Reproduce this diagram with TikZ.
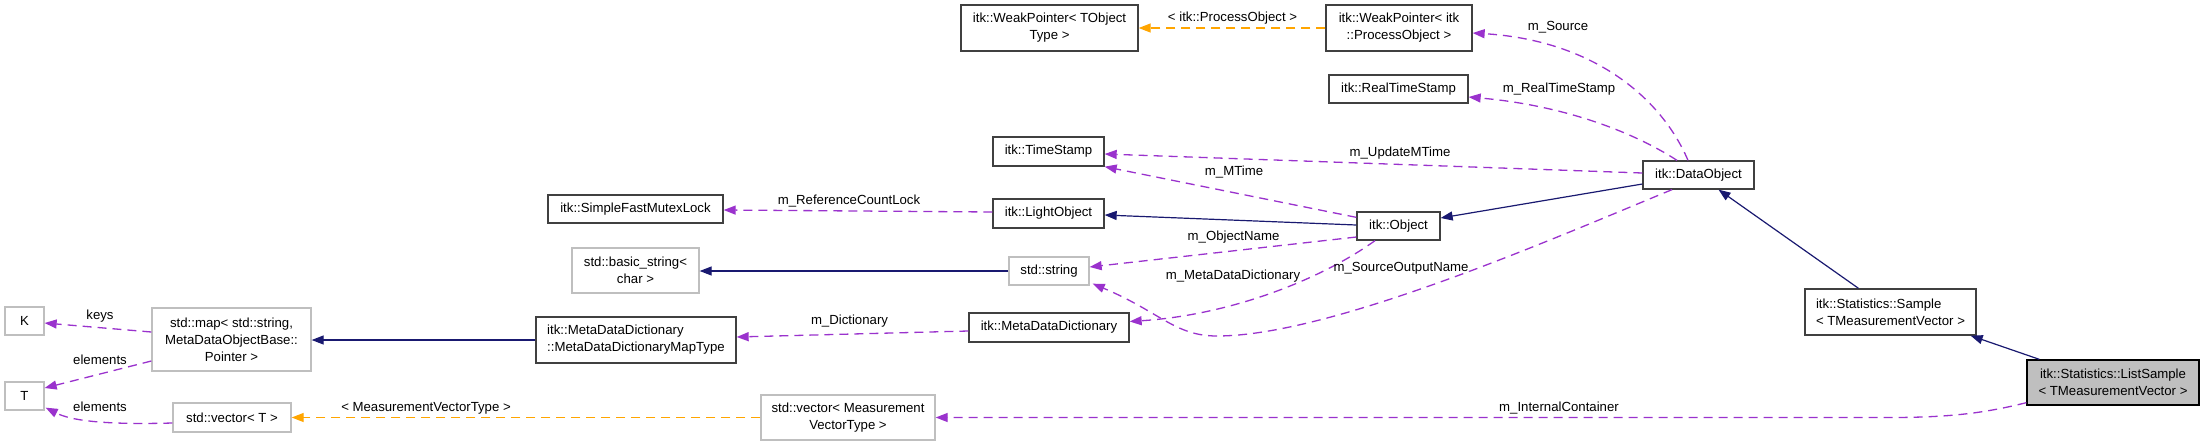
\documentclass[tikz,border=0pt]{standalone}
\usepackage{fontspec}
\setmainfont{Liberation Sans}
\usetikzlibrary{arrows.meta,calc}
\definecolor{navy}{HTML}{191970}
\definecolor{usecol}{HTML}{9A32CD}
\definecolor{tmplcol}{HTML}{FFA500}
\definecolor{boxline}{HTML}{404040}
\definecolor{grayline}{HTML}{BFBFBF}
\definecolor{lsfill}{HTML}{BFBFBF}
\tikzset{
  every node/.style={font=\fontsize{13.2}{17}\selectfont},
  cls/.style={draw=boxline, line width=1.3pt, fill=white, inner sep=0pt, align=center},
  ext/.style={draw=grayline, line width=1.3pt, fill=white, inner sep=0pt, align=center},
  inh/.style={draw=navy, line width=1.2pt, -{Triangle[length=12pt,width=9pt]}},
  usage/.style={draw=usecol, line width=1.3pt, dash pattern=on 9pt off 6pt, -{Triangle[length=12pt,width=9pt]}},
  templ/.style={draw=tmplcol, line width=1.3pt, dash pattern=on 9pt off 6pt, -{Triangle[length=12pt,width=9pt]}},
  lab/.style={inner sep=0pt}
}
\begin{document}
\begin{tikzpicture}[x=1pt,y=-1pt]
\useasboundingbox (0,0) rectangle (2205,445);
% nodes
\node[cls, minimum width=177, minimum height=46] (wpT) at (1049.5,28) {itk::WeakPointer< TObject\\Type >};
\node[cls, minimum width=146, minimum height=46] (wpP) at (1399,28) {itk::WeakPointer< itk\\::ProcessObject >};
\node[cls, minimum width=139, minimum height=28] (rts) at (1398.5,89) {itk::RealTimeStamp};
\node[cls, minimum width=111, minimum height=29] (ts) at (1048.5,151.5) {itk::TimeStamp};
\node[cls, minimum width=111, minimum height=28] (dobj) at (1698.5,175) {itk::DataObject};
\node[cls, minimum width=175, minimum height=28] (sfml) at (635.5,209) {itk::SimpleFastMutexLock};
\node[cls, minimum width=111, minimum height=29] (lo) at (1048.5,213.5) {itk::LightObject};
\node[cls, minimum width=83, minimum height=28] (obj) at (1398.5,226) {itk::Object};
\node[ext, minimum width=127, minimum height=45] (bstr) at (635.5,270.5) {std::basic\_string<\\char >};
\node[ext, minimum width=80, minimum height=28] (str) at (1049,271) {std::string};
\node[ext, minimum width=39, minimum height=28] (K) at (24.5,321) {K};
\node[ext, minimum width=159, minimum height=63] (map) at (231.5,339.5) {std::map< std::string,\\MetaDataObjectBase::\\Pointer >};
\node[cls, minimum width=200, minimum height=46, align=left] (mapT) at (636,340) {itk::MetaDataDictionary\\::MetaDataDictionaryMapType};
\node[cls, minimum width=160, minimum height=29] (mdd) at (1049,327.5) {itk::MetaDataDictionary};
\node[cls, minimum width=171, minimum height=46, align=left] (sample) at (1890.5,312) {itk::Statistics::Sample\\< TMeasurementVector >};
\node[cls, draw=black, fill=lsfill, minimum width=172, minimum height=45] (ls) at (2113,382.5) {itk::Statistics::ListSample\\< TMeasurementVector >};
\node[ext, minimum width=39, minimum height=28] (T) at (24.5,396) {T};
\node[ext, minimum width=118, minimum height=29] (vecT) at (232,417.5) {std::vector< T >};
\node[ext, minimum width=174, minimum height=45] (vecM) at (848,417.5) {std::vector< Measurement\\VectorType >};

% inheritance
\draw[inh] ($(ls.north west)+(13,0)$) -- ($(sample.south east)+(-6,0)$);
\draw[inh] ($(sample.north)+(-32,0)$) -- ($(dobj.south)+(20,0)$);
\draw[inh] ($(dobj.west)+(0,9)$) -- ($(obj.east)+(0,-8)$);
\draw[inh] ($(obj.west)+(0,-1)$) -- ($(lo.east)+(0,1.5)$);
\draw[inh] (str.west) -- (str.west -| bstr.east);
\draw[inh] (mapT.west) -- (mapT.west -| map.east);

% usage
\draw[usage] ($(ls.south west)+(0,-3)$) .. controls (1985,413) and (1950,417.5) .. (1890,417.5) -- (vecM.east)
  node[lab] at (1559,408) {m\_InternalContainer};
\draw[usage] ($(obj.west)+(0,11)$) -- ($(str.east)+(0,-4)$)
  node[lab] at (1233.5,237) {m\_ObjectName};
\draw[usage] ($(obj.south)+(-23.5,0)$) .. controls (1320,280) and (1230,315) .. ($(mdd.east)+(0,-6)$)
  node[lab] at (1233,276) {m\_MetaDataDictionary};
\draw[usage] ($(obj.north west)+(0,6)$) -- (ts.south east)
  node[lab] at (1234,172) {m\_MTime};
\draw[usage] ($(lo.west)+(0,-1.5)$) -- ($(sfml.east)+(0,1)$)
  node[lab] at (849,201) {m\_ReferenceCountLock};
\draw[usage] ($(mdd.west)+(0,3.5)$) -- ($(mapT.east)+(0,-3)$)
  node[lab] at (849.5,321) {m\_Dictionary};
\draw[usage] ($(map.west)+(0,-7.5)$) -- ($(K.east)+(0,2)$)
  node[lab] at (100,316) {keys};
\draw[usage] ($(map.west)+(0,21.5)$) -- ($(T.east)+(0,-8)$)
  node[lab] at (100,360) {elements};
\draw[usage] ($(vecT.west)+(0,5.5)$) .. controls (100,425) and (70,420) .. ($(T.south east)+(1,-3)$)
  node[lab] at (100,407) {elements};
\draw[usage] ($(dobj.west)+(0,-2)$) -- ($(ts.east)+(0,2.5)$)
  node[lab] at (1400,153) {m\_UpdateMTime};
\draw[usage] ($(dobj.north)+(-21.5,0)$) .. controls (1630,130) and (1560,105) .. ($(rts.east)+(0,8)$)
  node[lab] at (1559,89) {m\_RealTimeStamp};
\draw[usage] ($(dobj.north)+(-10.5,0)$) .. controls (1660,95) and (1590,40) .. ($(wpP.east)+(0,5)$)
  node[lab] at (1558,27) {m\_Source};
\draw[usage] ($(dobj.south)+(-26.5,0)$) .. controls (1550,240) and (1330,336) .. (1217,336)
  .. controls (1175,336) and (1160,312) .. ($(str.south east)+(3,-2)$)
  node[lab] at (1401,268) {m\_SourceOutputName};

% template
\draw[templ] (wpP.west) -- (wpT.east)
  node[lab] at (1232.5,18) {< itk::ProcessObject >};
\draw[templ] (vecM.west) -- (vecT.east)
  node[lab] at (426,408) {< MeasurementVectorType >};
\end{tikzpicture}
\end{document}
